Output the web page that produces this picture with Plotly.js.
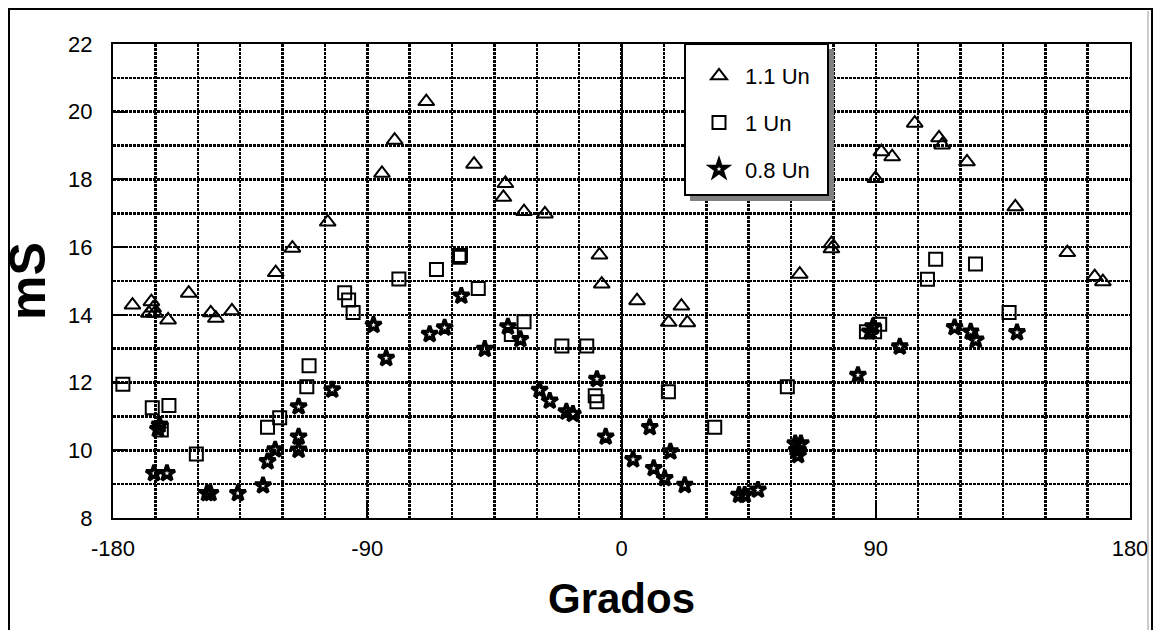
<!DOCTYPE html>
<html>
<head>
<meta charset="utf-8">
<script src="https://cdn.plot.ly/plotly-3.0.1.min.js"></script>
<style>
  html, body { margin: 0; padding: 0; background: #ffffff; }
  #chart { width: 1156px; height: 630px; }
</style>
</head>
<body>
<div id="chart"></div>
<script>
// ---- Data ----
const seriesNames = ['1.1 Un', '1 Un', '0.8 Un'];

// 1.1 Un (triangles)
const triX = [-173.1, -167.3, -166.4, -165.8, -165.2, -160.5, -153.2, -145.4, -143.6, -137.9,
              -122.4, -116.5, -104.0, -84.8, -80.3, -69.1, -52.2, -41.8, -41.1, -34.5,
              -27.1, -7.8, -7.0, 5.5, 16.7, 21.2, 23.3, 63.1, 74.3, 74.3,
              89.9, 92.0, 95.8, 103.8, 112.4, 113.5, 122.3, 139.4, 157.8, 167.5, 170.4];
const triY = [14.29, 14.05, 14.39, 14.20, 14.05, 13.85, 14.64, 14.06, 13.90, 14.12,
              15.25, 15.97, 16.74, 18.18, 19.16, 20.30, 18.45, 17.47, 17.88, 17.05,
              16.98, 15.77, 14.91, 14.42, 13.78, 14.26, 13.77, 15.20, 16.10, 15.95,
              18.03, 18.82, 18.67, 19.66, 19.23, 19.02, 18.52, 17.19, 15.84, 15.13, 14.98];

// 1 Un (squares)
const sqX = [-176.5, -166.1, -162.9, -160.2, -150.5, -125.3, -121.0, -111.4, -110.6, -98.0,
             -96.6, -95.0, -78.8, -65.5, -57.5, -57.0, -50.7, -39.0, -34.5, -21.1,
             -12.3, -9.3, -8.7, 16.6, 33.0, 58.7, 86.7, 89.6, 91.4, 108.3,
             111.2, 125.3, 137.2];
const sqY = [11.95, 11.26, 10.60, 11.32, 9.89, 10.68, 10.96, 11.88, 12.50, 14.65,
             14.44, 14.07, 15.06, 15.34, 15.70, 15.75, 14.78, 13.42, 13.80, 13.08,
             13.08, 11.61, 11.43, 11.73, 10.68, 11.88, 13.50, 13.50, 13.72, 15.05,
             15.64, 15.50, 14.07];

// 0.8 Un (stars)
const stX = [-165.5, -164.1, -163.5, -160.9, -146.7, -145.5, -135.8, -126.9, -125.3, -122.6,
             -114.3, -114.3, -114.3, -102.4, -87.8, -83.3, -67.9, -62.6, -56.7, -48.4,
             -40.2, -35.8, -29.0, -25.4, -19.5, -17.2, -8.7, -5.6, 4.1, 10.0,
             11.4, 15.3, 17.3, 22.4, 41.6, 43.6, 48.3, 61.5, 63.5, 62.0,
             62.5, 83.7, 87.9, 89.0, 98.5, 117.9, 123.6, 125.4, 140.0];
const stY = [9.32, 10.62, 10.75, 9.32, 8.73, 8.73, 8.73, 8.96, 9.67, 10.02,
             11.29, 10.40, 10.01, 11.79, 13.70, 12.72, 13.43, 13.62, 14.56, 12.99,
             13.65, 13.28, 11.78, 11.46, 11.14, 11.07, 12.10, 10.40, 9.73, 10.68,
             9.47, 9.17, 9.96, 8.97, 8.68, 8.68, 8.83, 10.20, 10.20, 10.00,
             9.85, 12.22, 13.50, 13.65, 13.06, 13.63, 13.50, 13.26, 13.48];

const xTicks = [-180, -90, 0, 90, 180];
const yTicks = [8, 10, 12, 14, 16, 18, 20, 22];
const xTitle = 'Grados';
const yTitle = 'mS';

// ---- Layout helpers (pixel -> paper) ----
const W = 1156, H = 630;
const M = {l: 113, r: 26, t: 44, b: 112};
const PW = W - M.l - M.r, PH = H - M.t - M.b;
const px = x => (x - M.l) / PW;
const py = y => (H - M.b - y) / PH;

const FONT = 'Liberation Sans, Arial, sans-serif';
const gridDash = '3px,1px';

const traces = [
  {x: triX, y: triY, name: seriesNames[0], legendgroup: 'a', type: 'scatter', mode: 'markers',
   marker: {symbol: 'triangle-up-open', size: 14, color: '#000', line: {width: 2, color: '#000'}}},
  {x: sqX, y: sqY, name: seriesNames[1], legendgroup: 'b', type: 'scatter', mode: 'markers',
   marker: {symbol: 'square-open', size: 13, color: '#000', line: {width: 2, color: '#000'}}},
  {x: stX, y: stY, name: seriesNames[2], legendgroup: 'c', type: 'scatter', mode: 'markers',
   marker: {symbol: 'star-open', size: 12, color: '#000', line: {width: 3.5, color: '#000'}}}
];

const layout = {
  width: W, height: H,
  margin: M,
  paper_bgcolor: '#ffffff',
  plot_bgcolor: '#ffffff',
  font: {family: FONT, color: '#000', size: 22},
  showlegend: true,
  xaxis: {
    range: [-180, 180], tickmode: 'array', tickvals: xTicks, ticktext: xTicks.map(String),
    ticks: 'inside', ticklen: 15, tickwidth: 2, tickcolor: '#000',
    showline: true, linewidth: 2, linecolor: '#000', mirror: true,
    showgrid: true, gridcolor: '#000', gridwidth: 2.5, griddash: gridDash,
    zeroline: true, zerolinecolor: '#000', zerolinewidth: 2,
    minor: {tick0: -180, dtick: 15, showgrid: true, gridcolor: '#000', gridwidth: 2.5, griddash: gridDash, ticks: ''},
    tickfont: {size: 22, family: FONT, color: '#000'},
    ticklabelstandoff: 10,
    automargin: false, fixedrange: true,
    title: {text: xTitle, font: {size: 42, family: FONT, color: '#000', weight: 'bold'}, standoff: 23}
  },
  yaxis: {
    range: [8, 22], tickmode: 'array', tickvals: yTicks, ticktext: yTicks.map(String),
    ticks: 'inside', ticklen: 15, tickwidth: 2, tickcolor: '#000',
    showline: true, linewidth: 2, linecolor: '#000', mirror: true,
    showgrid: true, gridcolor: '#000', gridwidth: 2.5, griddash: gridDash,
    zeroline: false,
    minor: {tick0: 8, dtick: 1, showgrid: true, gridcolor: '#000', gridwidth: 2.5, griddash: gridDash, ticks: ''},
    tickfont: {size: 22, family: FONT, color: '#000'},
    ticklabelstandoff: 14,
    automargin: false, fixedrange: true,
    title: {text: yTitle, font: {size: 50, family: FONT, color: '#000', weight: 'bold'}, standoff: 14}
  },
  legend: {
    x: px(693), y: py(55), xanchor: 'left', yanchor: 'top',
    bgcolor: 'rgba(0,0,0,0)', borderwidth: 0,
    font: {size: 22, family: FONT, color: '#000'},
    itemwidth: 42, tracegroupgap: 15, traceorder: 'grouped'
  },
  shapes: [
    // legend shadow
    {type: 'rect', xref: 'paper', yref: 'paper', x0: px(690), x1: px(834), y0: py(49), y1: py(201),
     fillcolor: '#808080', line: {width: 0}, layer: 'above'},
    // legend box
    {type: 'rect', xref: 'paper', yref: 'paper', x0: px(685), x1: px(828), y0: py(44), y1: py(195),
     fillcolor: '#ffffff', line: {width: 2, color: '#000'}, layer: 'above'},
    // outer frame
    {type: 'rect', xref: 'paper', yref: 'paper', x0: px(9), x1: px(1152), y0: py(9), y1: py(645),
     line: {width: 2, color: '#000'}, layer: 'above'},
    {type: 'line', xref: 'paper', yref: 'paper', x0: px(1148), x1: px(1148), y0: py(11), y1: py(645),
     line: {width: 1, color: '#999'}, layer: 'above'}
  ]
};

Plotly.newPlot('chart', traces, layout, {displayModeBar: false, staticPlot: true});
</script>
</body>
</html>
